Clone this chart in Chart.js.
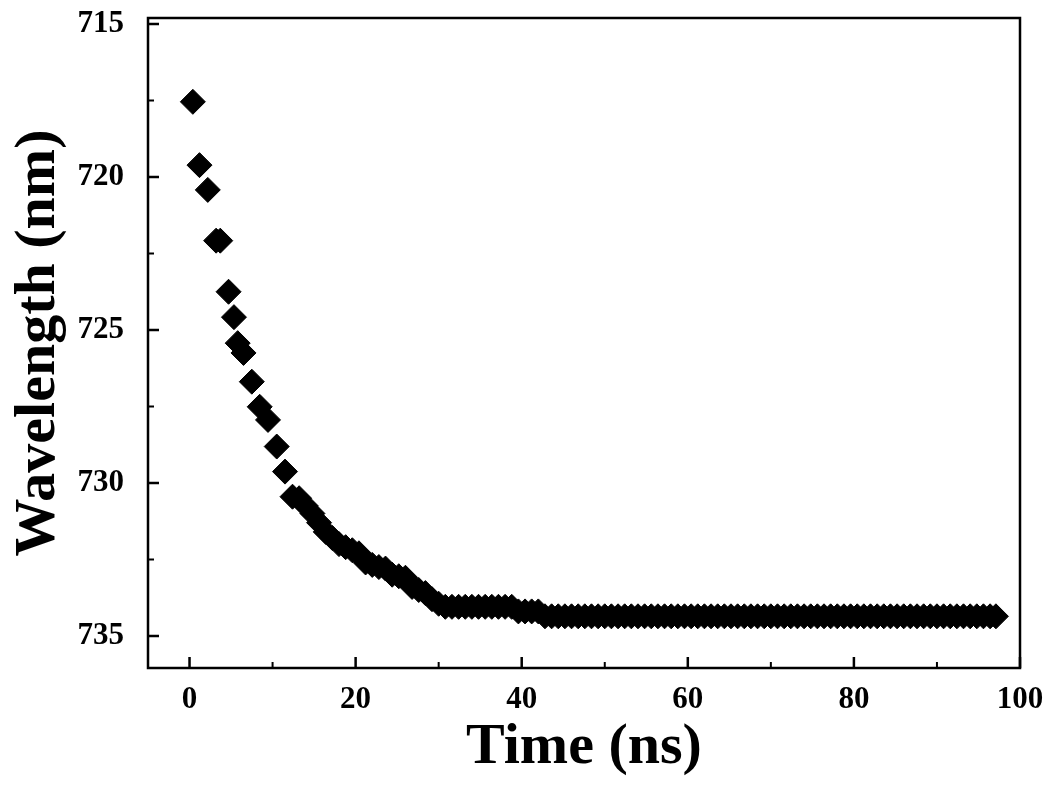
<!DOCTYPE html>
<html>
<head>
<meta charset="utf-8">
<script src="https://cdn.jsdelivr.net/npm/chart.js@4/dist/chart.umd.min.js"></script>
<style>
    html, body { margin: 0; padding: 0; background: #fff; }
    #wrap { width: 1052px; height: 793px; }
</style>
</head>
<body>
<div id="wrap"><canvas id="chart" width="1052" height="793"></canvas></div>
<script>
// Data
const timeNs = [
    0.4, 1.2, 2.2, 3.2, 3.7, 4.7, 5.35, 5.8, 6.5, 7.5,
    8.45, 9.45, 10.5, 11.5, 12.4, 13.2, 14.0, 14.8, 15.6, 16.4,
    17.2, 18.0, 18.8, 19.6, 20.4, 21.2, 22.0, 22.8, 23.6, 24.4,
    25.2, 26.0, 26.8, 27.6, 28.4, 29.2, 30.0, 30.8, 31.6, 32.4,
    33.2, 34.0, 34.8, 35.6, 36.4, 37.2, 38.0, 38.8, 39.6, 40.4,
    41.2, 42.0, 42.8, 43.6, 44.4, 45.2, 46.0, 46.8, 47.6, 48.4,
    49.2, 50.0, 50.8, 51.6, 52.4, 53.2, 54.0, 54.8, 55.6, 56.4,
    57.2, 58.0, 58.8, 59.6, 60.4, 61.2, 62.0, 62.8, 63.6, 64.4,
    65.2, 66.0, 66.8, 67.6, 68.4, 69.2, 70.0, 70.8, 71.6, 72.4,
    73.2, 74.0, 74.8, 75.6, 76.4, 77.2, 78.0, 78.8, 79.6, 80.4,
    81.2, 82.0, 82.8, 83.6, 84.4, 85.2, 86.0, 86.8, 87.6, 88.4,
    89.2, 90.0, 90.8, 91.6, 92.4, 93.2, 94.0, 94.8, 95.6, 96.4,
    97.1
];
const wavelengthNm = [
    717.54, 719.61, 720.42, 722.08, 722.08, 723.75, 724.58, 725.43, 725.75, 726.69,
    727.51, 727.94, 728.81, 729.63, 730.45, 730.5, 730.75, 731.0, 731.3, 731.6,
    731.8, 732.0, 732.1, 732.2, 732.3, 732.6, 732.68, 732.75, 732.8, 733.0,
    733.05, 733.1, 733.4, 733.5, 733.6, 733.8, 733.95, 734.05, 734.05, 734.05,
    734.05, 734.05, 734.05, 734.05, 734.05, 734.05, 734.05, 734.05, 734.2, 734.2,
    734.2, 734.2, 734.36, 734.36, 734.36, 734.36, 734.36, 734.36, 734.36, 734.36,
    734.36, 734.36, 734.36, 734.36, 734.36, 734.36, 734.36, 734.36, 734.36, 734.36,
    734.36, 734.36, 734.36, 734.36, 734.36, 734.36, 734.36, 734.36, 734.36, 734.36,
    734.36, 734.36, 734.36, 734.36, 734.36, 734.36, 734.36, 734.36, 734.36, 734.36,
    734.36, 734.36, 734.36, 734.36, 734.36, 734.36, 734.36, 734.36, 734.36, 734.36,
    734.36, 734.36, 734.36, 734.36, 734.36, 734.36, 734.36, 734.36, 734.36, 734.36,
    734.36, 734.36, 734.36, 734.36, 734.36, 734.36, 734.36, 734.36, 734.36, 734.36,
    734.36
];

const xTicks = [0, 20, 40, 60, 80, 100];
const xMinorTicks = [10, 30, 50, 70, 90];
const yTicks = [715, 720, 725, 730, 735];
const yMinorTicks = [717.5, 722.5, 727.5, 732.5];

const FONT = '"Liberation Serif", "Times New Roman", serif';

// box round the plot + inward ticks
const frameTicks = {
    id: 'frameTicks',
    afterDraw(chart) {
        const ctx = chart.ctx;
        const a = chart.chartArea;
        const xs = chart.scales.x;
        const ys = chart.scales.y;
        ctx.save();
        ctx.strokeStyle = '#000';
        ctx.lineWidth = 2.5;
        ctx.strokeRect(a.left, a.top, a.right - a.left, a.bottom - a.top);

        ctx.lineWidth = 2.5;
        ctx.beginPath();
        xTicks.forEach(v => {
            const px = xs.getPixelForValue(v);
            ctx.moveTo(px, a.bottom);
            ctx.lineTo(px, a.bottom - 11);
        });
        yTicks.forEach(v => {
            const py = ys.getPixelForValue(v);
            ctx.moveTo(a.left, py);
            ctx.lineTo(a.left + 11, py);
        });
        ctx.stroke();

        ctx.lineWidth = 2;
        ctx.beginPath();
        xMinorTicks.forEach(v => {
            const px = xs.getPixelForValue(v);
            ctx.moveTo(px, a.bottom);
            ctx.lineTo(px, a.bottom - 6);
        });
        yMinorTicks.forEach(v => {
            const py = ys.getPixelForValue(v);
            ctx.moveTo(a.left, py);
            ctx.lineTo(a.left + 6, py);
        });
        ctx.stroke();
        ctx.restore();
    }
};

new Chart(document.getElementById('chart'), {
    type: 'scatter',
    data: {
        datasets: [{
            label: 'Wavelength',
            data: timeNs.map((t, i) => ({ x: t, y: wavelengthNm[i] })),
            pointStyle: 'rectRot',
            pointRadius: 12.5,
            pointHoverRadius: 12.5,
            backgroundColor: '#000',
            borderColor: '#000',
            borderWidth: 1
        }]
    },
    options: {
        responsive: false,
        animation: false,
        layout: { padding: { top: 18, right: 32, left: 0, bottom: 0 } },
        plugins: {
            legend: { display: false },
            tooltip: { enabled: false }
        },
        scales: {
            x: {
                type: 'linear',
                min: -5,
                max: 100,
                afterBuildTicks: s => { s.ticks = xTicks.map(v => ({ value: v })); },
                afterFit: s => {
                    s.height = 125;
                    s.paddingLeft = 0;
                    s.paddingRight = 0;
                },
                grid: { display: false },
                border: { display: false },
                ticks: {
                    color: '#000',
                    padding: 5,
                    font: { family: FONT, size: 31, weight: 'bold' }
                },
                title: {
                    display: true,
                    text: 'Time (ns)',
                    color: '#000',
                    padding: { top: 0, bottom: 10 },
                    font: { family: FONT, size: 58, weight: 'bold' }
                }
            },
            y: {
                type: 'linear',
                reverse: true,
                min: 714.8,
                max: 736.05,
                afterBuildTicks: s => { s.ticks = yTicks.map(v => ({ value: v })); },
                afterFit: s => {
                    s.width = 148;
                    s.paddingTop = 0;
                    s.paddingBottom = 0;
                },
                grid: { display: false },
                border: { display: false },
                ticks: {
                    color: '#000',
                    padding: 16,
                    font: { family: FONT, size: 31, weight: 'bold' }
                },
                title: {
                    display: true,
                    text: 'Wavelength (nm)',
                    color: '#000',
                    padding: { bottom: 0, top: 4 },
                    font: { family: FONT, size: 58, weight: 'bold' }
                }
            }
        }
    },
    plugins: [frameTicks]
});
</script>
</body>
</html>
